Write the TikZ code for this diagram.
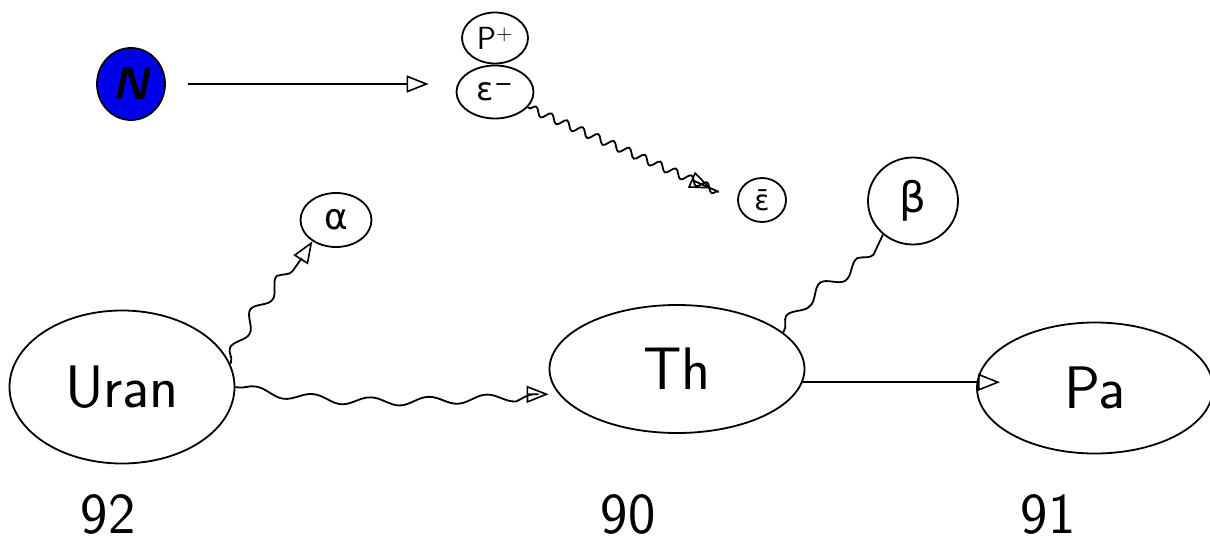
\documentclass[tikz,border=0pt]{standalone}
\usepackage{fontspec}
\newfontfamily\gk{DejaVu Sans}
\usetikzlibrary{shapes.geometric,arrows.meta,decorations.pathmorphing}
\definecolor{nblue}{RGB}{0,0,235}
\begin{document}
\begin{tikzpicture}[x=1pt,y=-1pt,
  every path/.style={line width=1.8pt},
  blob/.style={ellipse,draw,line width=1.8pt,inner sep=0pt},
  big/.style={font=\sffamily\fontsize{60}{60}\selectfont},
  num/.style={font=\sffamily\fontsize{58}{58}\selectfont,inner sep=0pt},
  tip/.style={-{Triangle[open,length=22pt,width=17pt,line width=1.6pt]}},
  wave/.style={decorate,decoration={snake,amplitude=4pt,segment length=20pt,pre length=2pt,post length=20pt}}]
\useasboundingbox (0,0) rectangle (1210,543);
% nodes
\node[blob,fill=nblue,minimum width=68pt,minimum height=72pt] (n) at (131,84)
  {\sffamily\bfseries\itshape\fontsize{46}{46}\selectfont N};
\node[blob,minimum width=66pt,minimum height=51pt] (p) at (495,38)
  {\sffamily\fontsize{32}{32}\selectfont P\textsuperscript{+}};
\node[blob,minimum width=77pt,minimum height=53pt] (eps) at (495,92)
  {\gk\fontsize{32}{32}\selectfont ε\textsuperscript{−}};
\node[blob,minimum width=48pt,minimum height=44pt] (epsb) at (762,200)
  {\gk\fontsize{28}{28}\selectfont ε̄};
\node[blob,minimum width=71pt,minimum height=54pt] (alpha) at (336,220)
  {\gk\fontsize{36}{36}\selectfont α};
\node[blob,minimum width=90pt,minimum height=87pt] (beta) at (913,201)
  {\gk\fontsize{42}{42}\selectfont β};
\node[blob,big,minimum width=225pt,minimum height=153pt] (uran) at (122,387) {Uran};
\node[blob,big,minimum width=255pt,minimum height=128pt] (th) at (677,369) {Th};
\node[blob,big,minimum width=236pt,minimum height=131pt] (pa) at (1095,388) {Pa};
\node[num] (z92) at (108,514) {92};
\node[num] (z90) at (628,514) {90};
\node[num] (z91) at (1048,514) {91};
% connectors
\draw[tip,shorten <=22pt,shorten >=27pt] (n.east) -- (n.east -| eps.west);
\draw[tip,wave,decoration={segment length=17pt,amplitude=4pt},shorten <=4pt,shorten >=28pt] (eps.-25) -- (epsb.west);
\draw[tip,wave,decoration={segment length=42pt,amplitude=6pt}] (uran.12) to[out=70,in=-120] (alpha.222);
\draw[tip,wave,decoration={segment length=58pt,amplitude=4pt},shorten >=10pt] (uran.east) to[out=-10,in=180] (th.192);
\draw[wave,decoration={segment length=45pt,amplitude=6pt,post length=2pt}] (th.19) to[out=60,in=-110] (beta.228);
\draw[tip,shorten >=-24pt] (th.-6) -- (th.-6 -| pa.west);
\end{tikzpicture}
\end{document}
